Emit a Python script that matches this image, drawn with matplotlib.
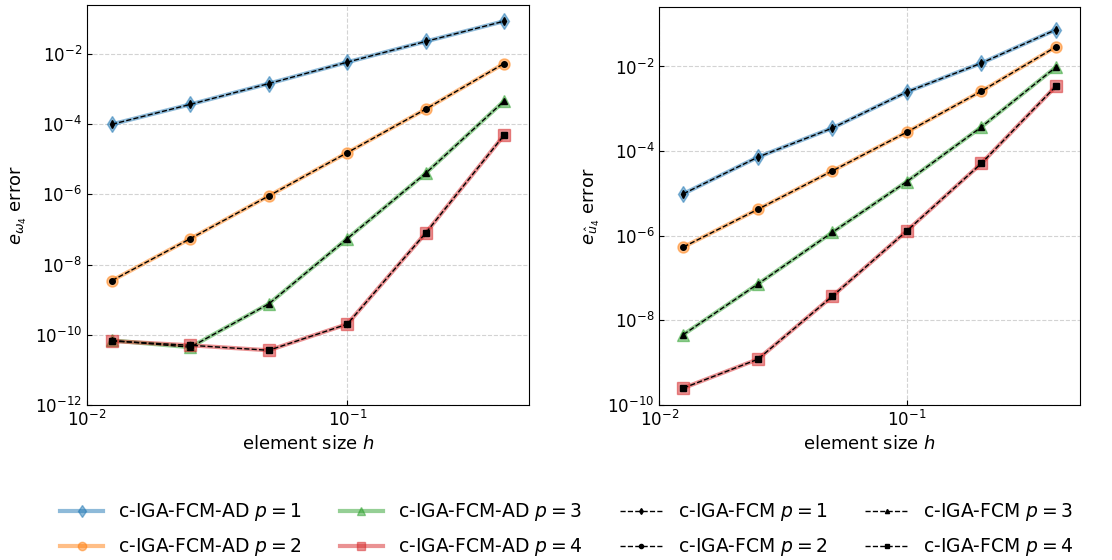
import matplotlib
matplotlib.use("Agg")
import matplotlib.pyplot as plt

# element sizes
h = [0.0125, 0.025, 0.05, 0.1, 0.2, 0.4]
degrees = [1, 2, 3, 4]

# left panel: e_omega4 error
omega_p1 = [1.0e-4, 3.7e-4, 1.45e-3, 5.9e-3, 2.3e-2, 8.7e-2]
omega_p2 = [3.5e-9, 5.5e-8, 9.1e-7, 1.55e-5, 2.7e-4, 5.4e-3]
omega_p3 = [6.9e-11, 4.4e-11, 7.6e-10, 5.5e-8, 4.0e-6, 4.6e-4]
omega_p4 = [6.6e-11, 5.0e-11, 3.6e-11, 2.0e-10, 7.9e-8, 4.9e-5]

# right panel: e_u4 error
u_p1 = [9.8e-6, 7.2e-5, 3.5e-4, 2.5e-3, 1.2e-2, 7.4e-2]
u_p2 = [5.4e-7, 4.2e-6, 3.4e-5, 2.8e-4, 2.6e-3, 2.9e-2]
u_p3 = [4.6e-9, 7.2e-8, 1.2e-6, 1.9e-5, 3.7e-4, 9.6e-3]
u_p4 = [2.5e-10, 1.2e-9, 3.7e-8, 1.3e-6, 5.1e-5, 3.4e-3]

omega_err = [omega_p1, omega_p2, omega_p3, omega_p4]
u_err = [u_p1, u_p2, u_p3, u_p4]

colors = ['tab:blue', 'tab:orange', 'tab:green', 'tab:red']
markers = ['d', 'o', '^', 's']

fig = plt.figure(figsize=(11.12, 5.6), dpi=100)
ax1 = fig.add_axes([0.078, 0.277, 0.398, 0.714])
ax2 = fig.add_axes([0.593, 0.277, 0.378, 0.710])

panels = [(ax1, omega_err, r'$e_{\omega_4}$ error', 1e-12),
          (ax2, u_err, r'$e_{\hat{u}_4}$ error', 1e-10)]

for ax, errs, ylab, ybot in panels:
    # AD results (thick, translucent)
    for p, e, c, m in zip(degrees, errs, colors, markers):
        ax.plot(h, e, color=c, marker=m, linewidth=3, markersize=8, alpha=0.5,
                label=r'c-IGA-FCM-AD $p = %d$' % p)
    # reference results (black dashed)
    for p, e, m in zip(degrees, errs, markers):
        ax.plot(h, e, color='k', linestyle='--', marker=m, linewidth=1,
                markersize=4, label=r'c-IGA-FCM $p = %d$' % p)
    ax.set_xscale('log')
    ax.set_yscale('log')
    ax.set_xlim(1e-2, 0.5)
    ax.set_ylim(ybot, 10 ** -0.6)
    ax.minorticks_off()
    ax.tick_params(direction='in', labelsize=12)
    ax.grid(True, linestyle='--', color='lightgray', linewidth=0.8)
    ax.set_xlabel(r'element size $h$', fontsize=13)
    ax.set_ylabel(ylab, fontsize=13)

handles, labels = ax1.get_legend_handles_labels()
fig.legend(handles, labels, loc='center', bbox_to_anchor=(0.51, 0.054),
           ncol=4, frameon=False, fontsize=13.5, columnspacing=2.0,
           handlelength=2.3, labelspacing=0.7, markerscale=0.75)

fig.savefig('out.png', dpi=100)
